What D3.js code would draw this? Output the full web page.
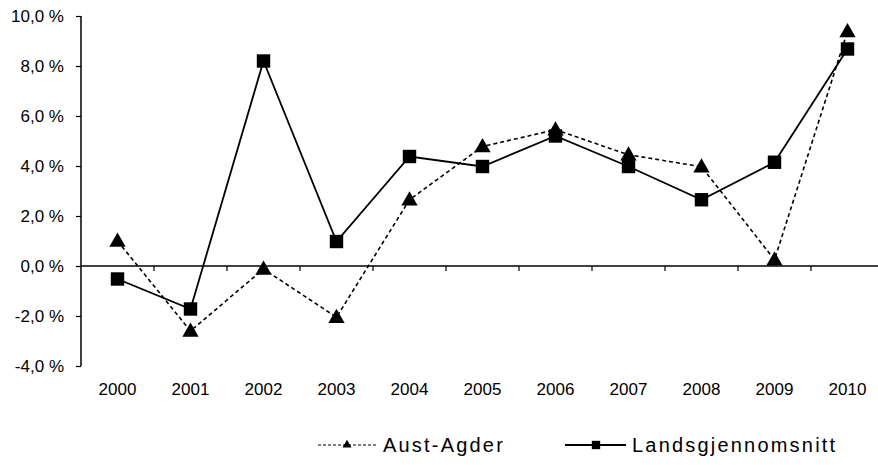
<!DOCTYPE html>
<html><head><meta charset="utf-8">
<script src="https://cdn.jsdelivr.net/npm/d3@7"></script>
<style>body{margin:0;background:#fff}svg{display:block;font-family:"Liberation Sans",Arial,sans-serif}</style>
</head><body><svg id="c" width="878" height="465"></svg>
<script>
const years = ["2000","2001","2002","2003","2004","2005","2006","2007","2008","2009","2010"];
const austAgder = [1.0, -2.6, -0.12, -2.05, 2.65, 4.78, 5.45, 4.45, 3.97, 0.25, 9.38];
const landsgjennomsnitt = [-0.52, -1.72, 8.2, 0.98, 4.38, 3.98, 5.2, 3.98, 2.65, 4.15, 8.68];
const yTicks = [-4, -2, 0, 2, 4, 6, 8, 10];
const seriesNames = ["Aust-Agder", "Landsgjennomsnitt"];

const svg = d3.select("#c");
const x = d3.scaleBand().domain(years).range([81, 884]).padding(0);
const y = d3.scaleLinear().domain([-4, 10]).range([366, 16]);
const fmt = v => d3.format(".1f")(v).replace(".", ",").replace("\u2212", "-") + " %";

// y axis
const ya = svg.append("g").attr("transform", "translate(81,0)")
  .call(d3.axisLeft(y).tickValues(yTicks).tickSize(5).tickPadding(12).tickFormat(fmt));
ya.select(".domain").attr("stroke", "#000").attr("stroke-width", 1.5).attr("d", `M0,${y(10)}V${y(-4)}`);
ya.selectAll(".tick line").attr("stroke", "#000").attr("stroke-width", 1.2);
ya.selectAll(".tick text").attr("font-size", 17).attr("fill", "#000").attr("font-family", '"Liberation Sans",Arial,sans-serif');

// x axis at zero
const xa = svg.append("g").attr("transform", `translate(0,${y(0)})`);
xa.append("line").attr("x1", 81).attr("x2", 884).attr("stroke", "#000").attr("stroke-width", 1.5);
xa.selectAll("line.t").data(years.slice(1)).enter().append("line").attr("class","t")
  .attr("x1", d => x(d)).attr("x2", d => x(d)).attr("y1", 0).attr("y2", 5)
  .attr("stroke", "#000").attr("stroke-width", 1.2);
svg.selectAll("text.xl").data(years).enter().append("text").attr("class","xl")
  .attr("x", d => x(d) + x.bandwidth()/2).attr("y", 395)
  .attr("text-anchor", "middle").attr("font-size", 17).attr("fill", "#000").text(d => d);

const cx = (d, i) => x(years[i]) + x.bandwidth()/2;
const line = d3.line().x((d, i) => cx(d, i)).y(d => y(d));

svg.append("path").datum(austAgder).attr("d", line).attr("fill", "none")
  .attr("stroke", "#000").attr("stroke-width", 1.6).attr("stroke-dasharray", "4,3");
svg.append("path").datum(landsgjennomsnitt).attr("d", line).attr("fill", "none")
  .attr("stroke", "#000").attr("stroke-width", 1.8);

const tri = d3.symbol().type(d3.symbolTriangle).size(115);
const sq = d3.symbol().type(d3.symbolSquare).size(180);
svg.selectAll("path.tri").data(austAgder).enter().append("path").attr("class","tri")
  .attr("d", tri).attr("transform", (d, i) => `translate(${cx(d, i)},${y(d)+1})`).attr("fill", "#000");
svg.selectAll("path.sq").data(landsgjennomsnitt).enter().append("path").attr("class","sq")
  .attr("d", sq).attr("transform", (d, i) => `translate(${cx(d, i)},${y(d)})`).attr("fill", "#000");

// legend
const lg = svg.append("g");
lg.append("line").attr("x1", 318).attr("x2", 377).attr("y1", 445).attr("y2", 445)
  .attr("stroke", "#000").attr("stroke-width", 1.2).attr("stroke-dasharray", "3,2");
lg.append("path").attr("d", d3.symbol().type(d3.symbolTriangle).size(35)).attr("transform", "translate(347,445)");
lg.append("text").attr("x", 383).attr("y", 452).attr("font-size", 20).attr("letter-spacing", "2.2px").text(seriesNames[0]);
lg.append("line").attr("x1", 565).attr("x2", 626).attr("y1", 445).attr("y2", 445)
  .attr("stroke", "#000").attr("stroke-width", 1.8);
lg.append("path").attr("d", d3.symbol().type(d3.symbolSquare).size(70)).attr("transform", "translate(596,445)");
lg.append("text").attr("x", 632).attr("y", 452).attr("font-size", 20).attr("letter-spacing", "2.2px").text(seriesNames[1]);
</script></body></html>
